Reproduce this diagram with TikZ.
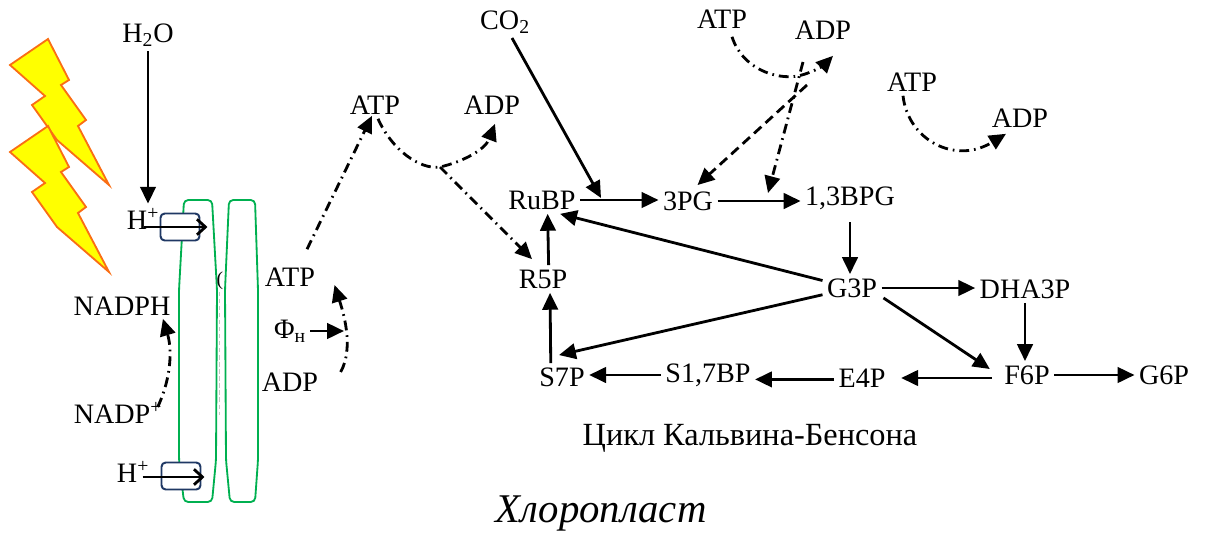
\documentclass[tikz,border=0pt]{standalone}
\usepackage{fontspec}
\setmainfont{Liberation Serif}
\usetikzlibrary{arrows.meta,positioning,calc}

\definecolor{navy}{RGB}{31,56,100}
\definecolor{memgreen}{RGB}{0,176,80}
\definecolor{boltfill}{RGB}{255,255,0}
\definecolor{boltline}{RGB}{250,110,20}

\newcommand\lblsize{\fontsize{20}{24}\selectfont}

\tikzset{
  every node/.style={font=\lblsize, inner sep=3pt},
  arr/.style={line width=2pt, -{Triangle[length=12pt,width=11pt]}},
  ddot/.style={line width=2pt, dash pattern=on 7pt off 3.5pt on 1.2pt off 3.5pt, -{Triangle[length=12pt,width=11pt]}},
  dsh/.style={line width=2pt, dash pattern=on 7pt off 4pt, -{Triangle[length=12pt,width=11pt]}},
  pump/.style={line width=2pt, -{Straight Barb[length=6pt,width=11pt]}},
  pumpbox/.style={draw=navy, fill=white, line width=1.4pt, rounded corners=3pt, minimum width=0.975cm, minimum height=0.675cm},
  membr/.style={draw=memgreen, line width=1.3pt, rounded corners=3pt},
  bolt/.style={fill=boltfill, draw=boltline, line width=1.3pt, line join=miter}
}

\begin{document}
\begin{tikzpicture}[x=0.025cm,y=-0.025cm]
\useasboundingbox (0,0) rectangle (1208,533);

% light
\draw[bolt] (10,65) -- (48,39) -- (69,80) -- (61,85) -- (86,120) -- (78,126) -- (109,185) -- (57,140) -- (32,105) -- (45,96) -- cycle;
\draw[bolt] (10,152) -- (48,126) -- (69,167) -- (61,172) -- (86,207) -- (78,213) -- (109,272) -- (57,227) -- (32,192) -- (45,183) -- cycle;

% thylakoid membranes
\draw[membr] (184,200) -- (212,200) -- (217,290) -- (216,460) -- (212,502) -- (184,502) -- (179,460) -- (179,290) -- cycle;
\draw[membr] (229,200) -- (255,200) -- (258,290) -- (258,460) -- (255,502) -- (230,502) -- (226,460) -- (225,290) -- cycle;
\draw[gray!45, line width=0.5pt, densely dashed] (219,292) -- (219,415);
\node[font=\fontsize{14}{14}\selectfont, inner sep=0pt] (brk) at (220,281) {(};

% light phase
\node (h2o) at (148,35) {H\textsubscript{2}O};
\node (hup) at (143,219) {H\textsuperscript{+}};
\node (hdn) at (133,472) {H\textsuperscript{+}};
\node[pumpbox] (pumpup) at (180,227) {};
\node[pumpbox] (pumpdn) at (181,476) {};
\node (nadph) at (122,306) {NADPH};
\node (nadp) at (118,413) {NADP\textsuperscript{+}};
\node (atpm) at (290,277) {ATP};
\node (phi) at (290,331) {Φ\textsubscript{н}};
\node (adpm) at (290,382) {ADP};
\coordinate (synth) at (344,331);

\draw[arr] (h2o.south) -- (h2o.south |- hup.north);
\draw[pump] ($(pumpup.west)+(-16,0)$) -- ($(pumpup.east)+(7,0)$);
\draw[pump] ($(pumpdn.west)+(-18,1)$) -- ($(pumpdn.east)+(3,1)$);
\draw[ddot] ($(nadp.east)+(-9,-6)$) .. controls +(14,-30) and +(9,30) .. ($(nadph.south east)+(-12,-1)$);
\draw[ddot] ($(adpm.east)+(18,-10)$) .. controls +(14,-25) and +(8,25) .. ($(atpm.east)+(15,8)$);
\draw[arr] (phi) -- (synth);

% ATP use
\node (atp1) at (375,105) {ATP};
\node (adp1) at (492,105) {ADP};
\node (atp2) at (722,19) {ATP};
\node (adp2) at (823,30) {ADP};
\node (atp3) at (912,82) {ATP};
\node (adp3) at (1020,118) {ADP};
\node (co2) at (505,22) {CO\textsubscript{2}};

% Calvin cycle
\node (rubp) at (542,200) {RuBP};
\node (pg3) at (688,201) {3PG};
\node (bpg) at (850,198) {1,3BPG};
\node (r5p) at (543,279) {R5P};
\node (g3p) at (852,288) {G3P};
\node (dha) at (1025,289) {DHA3P};
\node (s7p) at (562,377) {S7P};
\node (s17) at (708,375) {S1,7BP};
\node (e4p) at (862,378) {E4P};
\node (f6p) at (1027,375) {F6P};
\node (g6p) at (1164,375) {G6P};
\node[font=\fontsize{23}{26}\selectfont] (cycle) at (750,438) {Цикл Кальвина-Бенсона};
\node[font=\fontsize{29}{32}\selectfont\itshape] (chloro) at (601,513) {Хлоропласт};

\coordinate (fixco2) at (601,198);
\coordinate (split1) at (440,167);
\coordinate (split2) at (807,85);
\coordinate (split3) at (803,62);
\coordinate (tobpg) at (768,193);

\draw[ddot] ($(atpm.north)+(17,-14)$) -- ($(atp1.south)+(-3,-3)$);
\draw[ddot] ($(atp1.south)+(3,0)$) .. controls (392,150) and (420,170) .. (split1) .. controls (462,162) and (485,150) .. ($(adp1.south)+(3,5)$);
\draw[ddot] (split1) -- ($(r5p.north)+(-11,-6)$);
\draw[ddot] ($(atp2.south)+(10,4)$) .. controls (742,68) and (775,80) .. (798,76) .. controls (815,72) and (825,64) .. ($(adp2.south)+(10,12)$);
\draw[dsh] (split2) -- ($(pg3.north east)+(-20,-2)$);
\draw[ddot] (split3) -- (tobpg);
\draw[ddot] ($(atp3.south)+(-9,0)$) .. controls (908,140) and (955,165) .. ($(adp3.south)+(-14,2)$);

\draw[arr] ($(co2.south)+(7,0)$) -- (fixco2);
\draw[arr] (rubp.east) -- (rubp.east -| pg3.west);
\draw[arr] (pg3.east) -- (pg3.east -| bpg.west);
\draw[arr, shorten <=6pt] (bpg.south) -- (bpg.south |- g3p.north);
\draw[arr] (g3p) -- ($(rubp.south east)+(-20,0)$);
\draw[arr] (g3p) -- ($(s7p.north)+(-3,-8)$);
\draw[arr] ([xshift=-8pt]s7p.north) -- ([xshift=5pt]r5p.south);
\draw[arr] ([xshift=4pt]r5p.north) -- ([xshift=4pt]rubp.south);
\draw[arr] (g3p.east) -- (g3p.east -| dha.west);
\draw[arr] (dha.south) -- (dha.south |- f6p.north);
\draw[arr] ($(g3p.south east)+(2,-4)$) -- ($(f6p.west)+(-10,-6)$);
\draw[arr, shorten >=8pt] ($(f6p.west)+(-8,3)$) -- ($(f6p.west -| e4p.east)+(0,3)$);
\draw[arr] (f6p.east) -- (f6p.east -| g6p.west);
\draw[arr] ([yshift=-1pt]e4p.west) -- ([yshift=-1pt]e4p.west -| s17.east);
\draw[arr] (s17.west) -- (s17.west -| s7p.east);

\end{tikzpicture}
\end{document}
